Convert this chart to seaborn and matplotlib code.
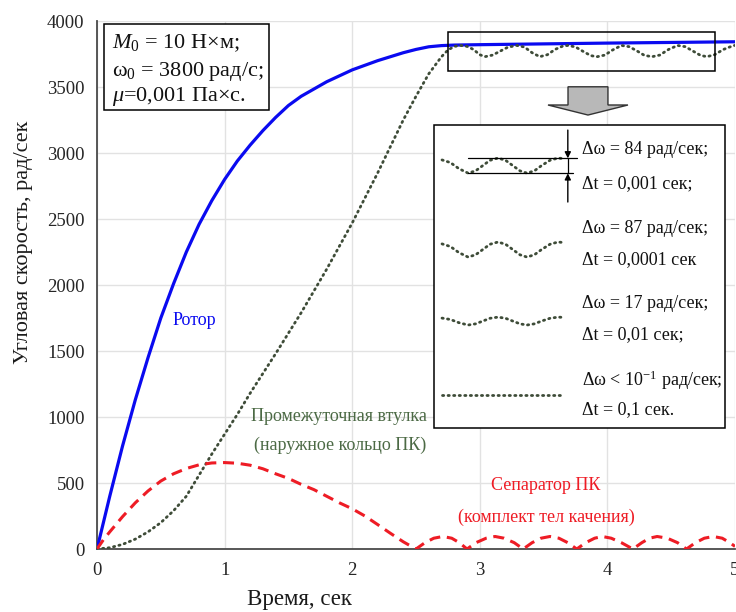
import numpy as np
import seaborn as sns
import matplotlib.pyplot as plt
from matplotlib.patches import Rectangle, FancyArrow

# ротор
t_rotor = [0, 0.05, 0.1, 0.2, 0.3, 0.4, 0.5, 0.6, 0.7, 0.8, 0.9, 1.0, 1.1, 1.2,
           1.3, 1.4, 1.5, 1.6, 1.8, 2.0, 2.2, 2.4, 2.5, 2.6, 2.7, 2.8, 3.0,
           3.5, 4.0, 4.5, 5.0]
w_rotor = [0, 200, 400, 780, 1130, 1450, 1750, 2010, 2250, 2460, 2640, 2800,
           2940, 3060, 3170, 3270, 3360, 3430, 3540, 3630, 3700, 3760, 3785,
           3805, 3814, 3818, 3821, 3827, 3833, 3838, 3843]

# промежуточная втулка
t_sleeve = [0, 0.1, 0.2, 0.3, 0.4, 0.5, 0.6, 0.7, 0.8, 0.9, 1.0, 1.1, 1.2,
            1.4, 1.6, 1.8, 2.0, 2.2, 2.4, 2.5, 2.6, 2.7, 2.75, 2.8, 2.85,
            2.90, 2.95, 3.00, 3.04, 3.10, 3.16, 3.22, 3.29, 3.35, 3.41, 3.47,
            3.53, 3.59, 3.65, 3.69, 3.75, 3.81, 3.87, 3.92, 3.98, 4.04, 4.11,
            4.17, 4.23, 4.29, 4.35, 4.41, 4.48, 4.55, 4.61, 4.67, 4.73, 4.78,
            4.84, 4.91, 4.99, 5.0]
w_sleeve = [0, 10, 35, 75, 130, 200, 290, 400, 560, 720, 870, 1020, 1180,
            1480, 1790, 2120, 2470, 2850, 3250, 3430, 3600, 3730, 3780, 3808,
            3815,
            3808, 3785, 3745, 3730, 3742, 3772, 3802, 3815, 3803, 3760, 3730,
            3745, 3785, 3810, 3815, 3804, 3770, 3738, 3730, 3742, 3780, 3815,
            3806, 3775, 3740, 3730, 3742, 3785, 3815, 3806, 3773, 3740, 3730,
            3745, 3785, 3815, 3815]

# сепаратор
t_sep = [0, 0.05, 0.1, 0.2, 0.3, 0.4, 0.5, 0.6, 0.7, 0.8, 0.9, 1.0, 1.1, 1.2,
         1.3, 1.4, 1.5, 1.6, 1.7, 1.8, 1.9, 2.0, 2.1, 2.2, 2.3, 2.4, 2.5,
         2.57, 2.64, 2.71, 2.78, 2.84, 2.90,
         2.97, 3.05, 3.12, 3.19, 3.27, 3.34,
         3.41, 3.48, 3.55, 3.62, 3.69, 3.76,
         3.83, 3.90, 3.96, 4.03, 4.11, 4.20,
         4.27, 4.33, 4.39, 4.47, 4.55, 4.62,
         4.69, 4.76, 4.83, 4.90, 4.96, 5.0]
w_sep = [0, 70, 130, 245, 350, 440, 515, 570, 610, 638, 652, 655, 650, 635,
         608, 570, 535, 490, 450, 400, 350, 305, 250, 185, 119, 55, 0,
         48, 82, 95, 82, 48, 0,
         48, 82, 95, 82, 48, 0,
         48, 82, 95, 82, 48, 0,
         48, 82, 95, 82, 48, 0,
         48, 82, 95, 82, 48, 0,
         48, 82, 95, 82, 48, 20]

# образцы колебаний во врезке
wave_u = [0, 0.07, 0.14, 0.217, 0.28, 0.34, 0.40, 0.467, 0.53, 0.59, 0.65,
          0.708, 0.77, 0.83, 0.90, 0.967, 1.0]
wave_s = [0.75, 0.4, -0.4, -1, -0.7, 0, 0.7, 1, 0.7, 0, -0.7, -1, -0.7, 0,
          0.7, 1, 0.95]
wave_center = [2905, 2269, 1727, 1167]
wave_amp = [57, 57, 30, 0]
inset_lines = [
    ["Δω = 84 рад/сек;", "Δt = 0,001 сек;"],
    ["Δω = 87 рад/сек;", "Δt = 0,0001 сек"],
    ["Δω = 17 рад/сек;", "Δt = 0,01 сек;"],
    ["Δω < 10$^{-1}$ рад/сек;", "Δt = 0,1 сек."],
]
inset_y = [[3030, 2770], [2429, 2189], [1861, 1621], [1280, 1053]]

sns.set_theme(style="whitegrid")
plt.rcParams["font.family"] = ["Liberation Serif", "DejaVu Serif"]
plt.rcParams["mathtext.fontset"] = "custom"
plt.rcParams["mathtext.rm"] = "Liberation Serif"
plt.rcParams["mathtext.it"] = "Liberation Serif:italic"

fig = plt.figure(figsize=(7.36, 6.12), dpi=100)
ax = fig.add_axes([0.1318, 0.1029, 0.8668, 0.8627])

blue = "#0a0af0"
red = "#ee1c25"
green = "#3e4c38"
green_txt = "#4c6a45"
dot_style = (0, (0.45, 1.55))

sns.lineplot(x=t_rotor, y=w_rotor, ax=ax, color=blue, lw=2.3,
             errorbar=None, zorder=3)
sns.lineplot(x=t_sleeve, y=w_sleeve, ax=ax, color=green, lw=2.0,
             linestyle=dot_style, dash_capstyle="round", errorbar=None,
             zorder=3)
sns.lineplot(x=t_sep, y=w_sep, ax=ax, color=red, lw=2.2,
             linestyle=(0, (3.6, 2.2)), errorbar=None, zorder=3)

ax.set_xlim(0, 5)
ax.set_ylim(0, 4000)
ax.set_xticks(range(0, 6))
ax.set_yticks(range(0, 4001, 500))
ax.grid(True, color="#e2e2e2", lw=1.0)
for s in ["top", "right"]:
    ax.spines[s].set_visible(False)
for s in ["left", "bottom"]:
    ax.spines[s].set_color("#4a4a4a")
    ax.spines[s].set_linewidth(1.3)
ax.tick_params(direction="in", length=4, width=1, color="#4a4a4a",
               labelsize=13.5, labelcolor="#262626", pad=9)

ax.set_xlabel("Время, сек", fontsize=16.5, color="#1a1a1a")
ax.set_ylabel("Угловая скорость, рад/сек", fontsize=16, color="#1a1a1a")
ax.xaxis.set_label_coords(0.318, -0.076)
ax.yaxis.set_label_coords(-0.100, 0.58)

# параметры
ax.add_patch(Rectangle((0.055, 3326), 1.294, 651, facecolor="white",
                       edgecolor="black", lw=1.1, zorder=4))
params = [r"$M_0$ = 10 Н×м;", r"$\mathrm{ω}_\mathrm{0}$ = 3800 рад/с;",
          r"$\mu$=0,001 Па×с."]
for txt, yy in zip(params, [3831, 3616, 3427]):
    ax.text(0.115, yy, txt, fontsize=16, va="center", ha="left",
            color="#111111", zorder=5)

# подписи кривых
ax.text(0.76, 1735, "Ротор", color=blue, fontsize=13, ha="center",
        va="center")
ax.text(1.897, 1002, "Промежуточная втулка", color=green_txt, fontsize=13,
        ha="center", va="center")
ax.text(1.905, 788, "(наружное кольцо ПК)", color=green_txt, fontsize=13,
        ha="center", va="center")
ax.text(3.52, 485, "Сепаратор ПК", color=red, fontsize=13, ha="center",
        va="center")
ax.text(3.52, 242, "(комплект тел качения)", color=red, fontsize=13,
        ha="center", va="center")

# рамка на участке колебаний
ax.add_patch(Rectangle((2.753, 3623), 2.09, 291, facecolor="none",
                       edgecolor="black", lw=1.1, zorder=4))

# стрелка вниз
ax.add_patch(FancyArrow(3.848, 3502, 0, -214, width=0.313, head_width=0.627,
                        head_length=76, length_includes_head=True,
                        facecolor="#b8b8b8", edgecolor="#333333", lw=1,
                        zorder=4))

# врезка
ax.add_patch(Rectangle((2.641, 916), 2.281, 2296, facecolor="white",
                       edgecolor="black", lw=1.1, zorder=4))
wave_t0, wave_len = 2.704, 0.94
for c, a in zip(wave_center, wave_amp):
    ax.plot([wave_t0 + u * wave_len for u in wave_u],
            [c + a * s for s in wave_s], color=green, lw=2.0,
            linestyle=dot_style, dash_capstyle="round", zorder=5)
for pair, ys in zip(inset_lines, inset_y):
    for txt, yy in zip(pair, ys):
        ax.text(3.80, yy, txt, fontsize=13, va="center", ha="left",
                color="#111111", zorder=6)

# размерная метка Δω
ax.plot([2.907, 3.762], [2960, 2960], color="black", lw=0.9, zorder=5)
ax.plot([2.907, 3.73], [2846, 2846], color="black", lw=0.9, zorder=5)
ax.plot([3.69, 3.69], [2846, 2960], color="black", lw=0.9, zorder=5)
ax.annotate("", xy=(3.69, 2960), xytext=(3.69, 3174), zorder=6,
            arrowprops=dict(arrowstyle="-|>", color="black", lw=1.0,
                            mutation_scale=9, shrinkA=0, shrinkB=0))
ax.annotate("", xy=(3.69, 2846), xytext=(3.69, 2629), zorder=6,
            arrowprops=dict(arrowstyle="-|>", color="black", lw=1.0,
                            mutation_scale=9, shrinkA=0, shrinkB=0))

fig.savefig("out.png", dpi=100)
